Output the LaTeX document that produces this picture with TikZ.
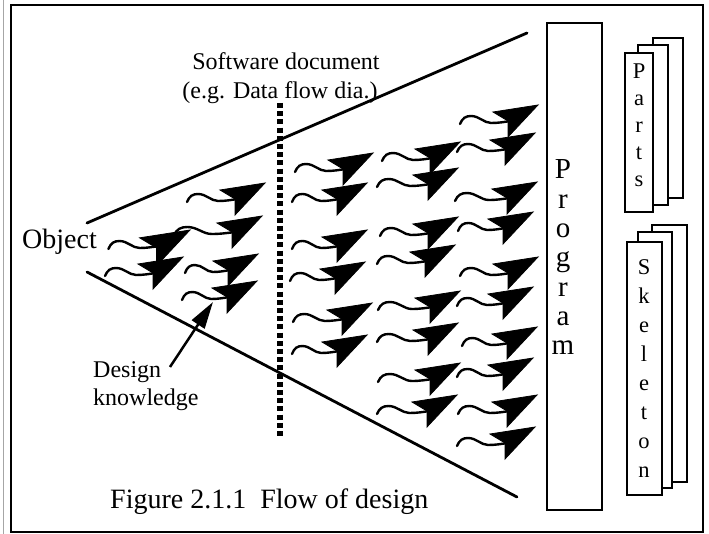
\documentclass[tikz,border=0pt]{standalone}
\usepackage{fontspec}
\setmainfont{Liberation Serif}
\usetikzlibrary{arrows.meta}

\tikzset{
  frameline/.style={line width=1.6pt},
  scanline/.style={line width=0.8pt, black!35},
  funnel/.style={line width=2.8pt, line cap=round},
  docline/.style={line width=6pt, dash pattern=on 5pt off 3.2pt},
  arrowhead/.style={fill=black, draw=black, line width=0.8pt, line join=miter},
  tailline/.style={line width=2.4pt, line cap=round},
  box/.style={draw, fill=white, line width=1.5pt},
  pointer/.style={line width=2.5pt, -{Triangle[length=27pt,width=15pt]}},
  bigtext/.style={inner sep=0pt, font=\fontsize{28}{32}\selectfont},
  midtext/.style={inner sep=0pt, font=\fontsize{24}{28}\selectfont},
  vletter/.style={inner sep=0pt, anchor=base, font=\fontsize{29}{31}\selectfont},
  cardletter/.style={inner sep=0pt, anchor=base, font=\fontsize{22.5}{26}\selectfont},
}

% one wavy flow arrow: [#1] = head size, #2,#3 = tip, #4 = tail length behind the head
\newcommand\flowarrow[4][1]{%
  \begin{scope}[shift={(#2,#3)}]
    \fill[arrowhead] (0,0) -- ({-45*#1},{7*#1}) -- ({-30*#1},{16*#1}) -- ({-30*#1},{32*#1}) -- cycle;
    \begin{scope}[shift={({-30*#1},0)}, xscale=#4]
      \draw[tailline] (-1,19) .. controls (-0.95,13) and (-0.88,11) .. (-0.77,11)
        .. controls (-0.6,11) and (-0.5,18) .. (-0.35,18)
        .. controls (-0.2,18) and (-0.08,17) .. (0.05,16);
    \end{scope}
  \end{scope}}

\begin{document}
\begin{tikzpicture}[x=1pt, y=-1pt]
  \useasboundingbox (0,0) rectangle (709,534);

  % outer frame
  \draw[scanline] (3,0) -- (3,534);
  \draw[frameline] (11,5) rectangle (703,532);

  % funnel
  \coordinate (apexT) at (87,223);
  \coordinate (mouthT) at (527,33);
  \coordinate (apexB) at (87,272);
  \coordinate (mouthB) at (517,497);
  \draw[funnel] (apexT) -- (mouthT);
  \draw[funnel] (apexB) -- (mouthB);

  % software document boundary
  \coordinate (docTop) at (280,103);
  \coordinate (docBot) at (280,437);
  \draw[docline] (docTop) -- (docBot);

  % flow arrows, column by column
  \flowarrow{262}{216}{58}
  \flowarrow[1.12]{190}{230}{48}
  \flowarrow{183}{257}{48}
  \flowarrow{265}{183}{48}
  \flowarrow{258}{254}{43}
  \flowarrow{257}{281}{45}

  \flowarrow{373}{153}{48}
  \flowarrow{367}{183}{45}
  \flowarrow{367}{230}{45}
  \flowarrow{365}{262}{45}
  \flowarrow{372}{303}{49}
  \flowarrow{367}{335}{45}

  \flowarrow{460}{142}{48}
  \flowarrow{458}{168}{51}
  \flowarrow{458}{217}{48}
  \flowarrow{455}{245}{48}
  \flowarrow{460}{291}{52}
  \flowarrow{458}{323}{51}
  \flowarrow{460}{363}{52}
  \flowarrow{457}{395}{50}

  \flowarrow{538}{105}{48}
  \flowarrow{535}{133}{48}
  \flowarrow{537}{182}{52}
  \flowarrow{533}{212}{45}
  \flowarrow{538}{257}{48}
  \flowarrow{533}{287}{46}
  \flowarrow{537}{327}{45}
  \flowarrow{533}{358}{46}
  \flowarrow{537}{395}{49}
  \flowarrow{535}{427}{48}

  % labels
  \node[bigtext, anchor=base west] (object) at (22,249) {Object};
  \node[midtext, anchor=base] (swdoc1) at (286,70) {Software document};
  \node[midtext, anchor=base] (swdoc2) at (280,99) {(e.g. Data flow dia.)};
  \node[midtext, anchor=base west] (design1) at (93,377) {Design};
  \node[midtext, anchor=base west] (design2) at (93,405) {knowledge};
  \node[bigtext, anchor=base west] (caption) at (110,508) {Figure 2.1.1\ \ Flow of design};

  % design knowledge pointer
  \coordinate (dkfoot) at (170,367);
  \coordinate (dktip) at (213,302);
  \draw[pointer] (dkfoot) -- (dktip);

  % program column
  \draw[box] (547,23) rectangle (602,510);
  \foreach \ch [count=\i from 0] in {P,r,o,g,r,a,m}
    \node[vletter] (prog\i) at (563,{179+29.3*\i}) {\ch};

  % parts stack
  \draw[box] (653,38) rectangle (683,198);
  \draw[box] (638,45) rectangle (668,205);
  \draw[box] (625,53) rectangle (653,212);
  \foreach \ch [count=\i from 0] in {P,a,r,t,s}
    \node[cardletter] (parts\i) at (639,{79+27*\i}) {\ch};

  % skeleton stack
  \draw[box] (652,225) rectangle (687,482);
  \draw[box] (638,232) rectangle (672,488);
  \draw[box] (627,242) rectangle (662,495);
  \foreach \ch [count=\i from 0] in {S,k,e,l,e,t,o,n}
    \node[cardletter] (skel\i) at (644,{275+28.9*\i}) {\ch};
\end{tikzpicture}
\end{document}
